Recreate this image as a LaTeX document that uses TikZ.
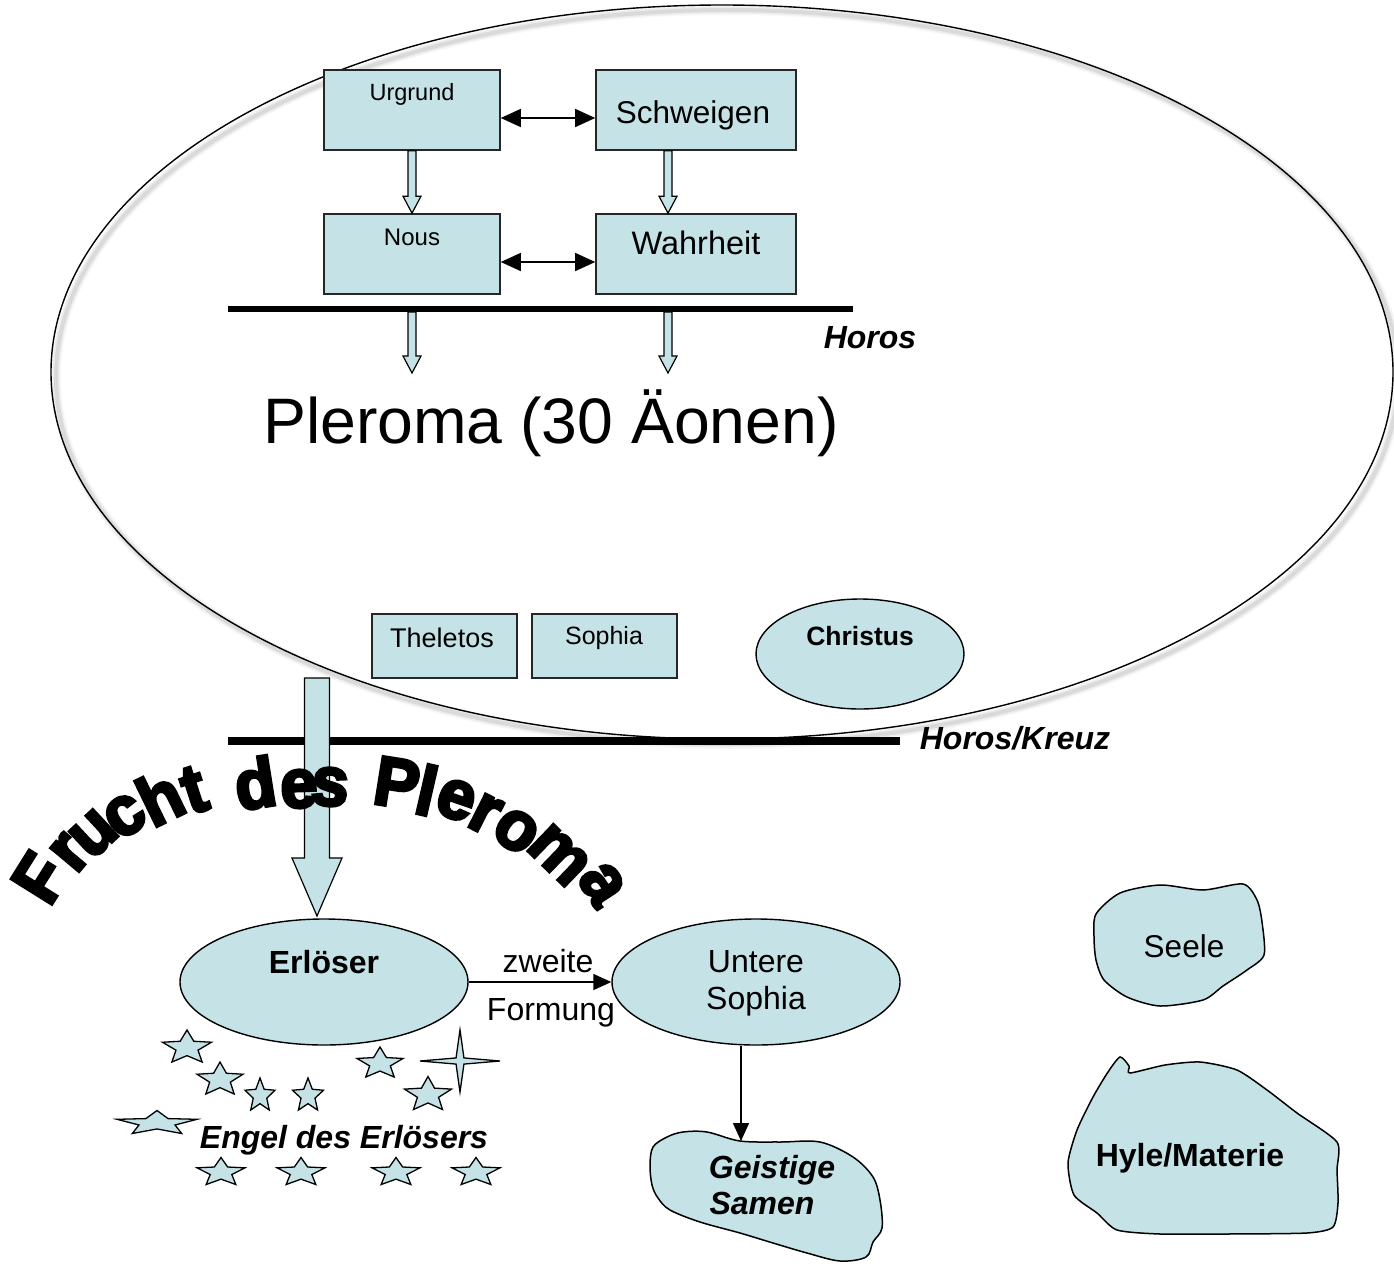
\documentclass[tikz,border=0pt]{standalone}
\usepackage{fontspec}
\usepackage{graphicx}
\setmainfont{Liberation Sans}
\newfontfamily\blackfont{Liberation Sans}[BoldFeatures={FakeBold=4.5}]
\usetikzlibrary{shapes.geometric,arrows.meta,calc}
\definecolor{lb}{RGB}{197,227,231}
\newcommand\fs[1]{\fontsize{#1}{#1}\selectfont}
\newcommand\fivestar[4]{%
  \draw[starsty, shift={(#1,#2+0.053*#4)}, xscale=#3/1.902, yscale=#4/1.809]
    (-90:1) -- (-54:.45) -- (-18:1) -- (18:.45) -- (54:1) -- (90:.45) -- (126:1) -- (162:.45) -- (198:1) -- (234:.45) -- cycle;}
\newcommand\blkarrow[5]{%
  \draw[blockarrow] let \p1=(#1), \p2=(#2) in
    ({\x1-#3pt},\y1) -- ({\x1-#3pt},{\y2+#5pt}) -- ({\x1-#4pt},{\y2+#5pt}) -- (\x1,\y2)
    -- ({\x1+#4pt},{\y2+#5pt}) -- ({\x1+#3pt},{\y2+#5pt}) -- ({\x1+#3pt},\y1) -- cycle;}
\begin{document}
\begin{tikzpicture}[x=1pt,y=-1pt,
  box/.style={draw=black!85, line width=1.6pt, fill=lb, minimum width=#1, inner sep=0pt},
  oval/.style={ellipse, draw=black, line width=1.4pt, fill=lb, inner sep=0pt},
  txt/.style={anchor=base, inner sep=0pt, align=center},
  blockarrow/.style={draw=black, line width=1.2pt, fill=lb, line join=miter},
  dbl/.style={line width=1.5pt, {Triangle[length=20pt,width=18pt]}-{Triangle[length=20pt,width=18pt]}},
  sgl/.style={line width=1.5pt, -{Triangle[length=18pt,width=16pt]}},
  bar/.style={line width=#1, draw=black},
  blob/.style={draw=black, line width=1.5pt, fill=lb},
  starsty/.style={draw=black, line width=1.3pt, fill=lb, line join=miter},
  fletter/.style={inner sep=0pt, anchor=center, font=\blackfont\bfseries\fs{62}}
]
\useasboundingbox (0,0) rectangle (1394,1271);

% big ellipse with soft shadow
\foreach \w/\o in {10/0.06, 7/0.10, 4/0.16}
  \draw[gray, opacity=\o, line width=\w pt] (727,377) ellipse [x radius=671, y radius=367];
\draw[line width=1.4pt] (722,372) ellipse [x radius=671, y radius=367];

% top four aeons
\node[box=176pt, minimum height=80pt] (urgrund) at (412,110) {};
\node[box=200pt, minimum height=80pt] (schweigen) at (696,110) {};
\node[box=176pt, minimum height=80pt] (nous) at (412,254) {};
\node[box=200pt, minimum height=80pt] (wahrheit) at (696,254) {};
\node[txt, font=\fs{23.5}] (t-urgrund) at (412,101) {Urgrund};
\node[txt, font=\fs{31.5}] (t-schweigen) at (693,124) {Schweigen};
\node[txt, font=\fs{24}] (t-nous) at (412,245) {Nous};
\node[txt, font=\fs{32.5}] (t-wahrheit) at (696,254) {Wahrheit};

\draw[dbl] ([yshift=-8pt]urgrund.east) -- ([yshift=-8pt]schweigen.west);
\draw[dbl] ([yshift=-8pt]nous.east) -- ([yshift=-8pt]wahrheit.west);
\blkarrow{urgrund.south}{nous.north}{4}{9}{17}
\blkarrow{[xshift=-28pt]schweigen.south}{[xshift=-28pt]wahrheit.north}{4}{9}{17}

% Horos
\coordinate (h1) at (228,309);
\coordinate (h2) at (853,309);
\draw[bar=6pt] (h1) -- (h2);
\node[txt, font=\fs{32}\bfseries\itshape] (t-horos) at (870,348) {Horos};
\coordinate (a1s) at (412,312);
\coordinate (a1e) at (412,373);
\coordinate (a2s) at (668,312);
\coordinate (a2e) at (668,373);
\blkarrow{a1s}{a1e}{4}{9}{17}
\blkarrow{a2s}{a2e}{4}{9}{17}

\node[txt, font=\fs{64.3}] (t-pleroma) at (551,443) {Pleroma (30 Äonen)};

% lower aeons
\node[box=145pt, minimum height=64pt] (theletos) at (444.5,646) {};
\node[box=145pt, minimum height=64pt] (sophia) at (604.5,646) {};
\node[txt, font=\fs{27}] (t-theletos) at (442,647) {Theletos};
\node[txt, font=\fs{25}] (t-sophia) at (604,644) {Sophia};
\node[oval, minimum width=208pt, minimum height=110pt] (christus) at (860,654) {};
\node[txt, font=\fs{26.5}\bfseries] (t-christus) at (860,645) {Christus};

% Horos / Kreuz
\coordinate (k1) at (228,741);
\coordinate (k2) at (900,741);
\draw[bar=8pt] (k1) -- (k2);
\node[txt, font=\fs{32}\bfseries\itshape] (t-kreuz) at (1015,749) {Horos/Kreuz};

% lower part
\node[oval, minimum width=288pt, minimum height=126pt] (erloeser) at (324,982) {};
\node[txt, font=\fs{32}\bfseries] (t-erloeser) at (324,973) {Erlöser};
\node[oval, minimum width=288pt, minimum height=126pt] (usophia) at (756,982) {};
\node[txt, font=\fs{32}] (t-untere) at (756,972) {Untere};
\node[txt, font=\fs{32}] (t-usophia) at (756,1009) {Sophia};

\coordinate (fr-start) at (317,678);
\coordinate (fr-tip) at (317,916);
\blkarrow{fr-start}{fr-tip}{12.5}{25}{58}

\draw[sgl] (erloeser.east) -- (usophia.west);
\node[txt, font=\fs{32}] (t-zweite) at (548,972) {zweite};
\node[txt, font=\fs{32}] (t-formung) at (551,1020) {Formung};

% blobs
\draw[blob] plot[smooth cycle, tension=.55] coordinates {
  (653,1147) (667,1137) (683,1132) (707,1132) (740,1141) (780,1142) (820,1142)
  (853,1157) (873,1177) (880,1200) (882,1228) (873,1242) (866,1257) (840,1261)
  (807,1253) (773,1243) (740,1233) (700,1222) (670,1210) (658,1198) (652,1185) (650,1165)};
\coordinate (gs-top) at (741,1141);
\draw[sgl] (usophia.south -| gs-top) -- (gs-top);
\node[txt, font=\fs{32}\bfseries\itshape] (t-geistige) at (772,1178) {Geistige};
\node[txt, font=\fs{32}\bfseries\itshape] (t-samen) at (762,1214) {Samen};

\draw[blob] plot[smooth cycle, tension=.45] coordinates {
  (1096,914) (1120,893) (1160,885) (1203,890) (1243,884) (1257,900) (1262,922)
  (1264,955) (1247,970) (1223,986) (1203,1000) (1160,1006) (1127,997) (1104,980)
  (1096,960) (1094,937)};
\node[txt, font=\fs{31.5}] (t-seele) at (1184,957) {Seele};

\draw[blob] plot[smooth cycle, tension=.4] coordinates {
  (1120,1057) (1129,1066) (1130,1073) (1165,1065) (1200,1062) (1237,1070) (1267,1090)
  (1297,1113) (1337,1142) (1337,1170) (1338,1203) (1333,1227) (1307,1233) (1227,1234)
  (1160,1234) (1117,1230) (1097,1213) (1074,1195) (1068,1163) (1077,1130) (1093,1097)
  (1108,1072)};
\node[txt, font=\fs{32}\bfseries] (t-hyle) at (1190,1166) {Hyle/Materie};

% stars
\fivestar{187}{1046}{49}{32}
\fivestar{220}{1078}{46}{32}
\fivestar{260}{1094}{30}{32}
\fivestar{308}{1094}{31}{32}
\fivestar{380}{1062}{46}{30}
\fivestar{428}{1093}{47}{33}
\fivestar{157}{1122}{80}{23}
\fivestar{221}{1171}{48}{27}
\fivestar{301}{1171}{48}{27}
\fivestar{396}{1171}{48}{27}
\fivestar{476}{1171}{48}{27}
\draw[starsty, shift={(460,1061)}, xscale=40, yscale=31]
  (-90:1) -- (-45:.14) -- (0:1) -- (45:.14) -- (90:1) -- (135:.14) -- (180:1) -- (225:.14) -- cycle;
\node[txt, font=\fs{32}\bfseries\itshape] (t-engel) at (344,1148) {Engel des Erlösers};

% arched title
\foreach \x/\y/\r/\c [count=\i] in {
  40/878/58/F, 70/853/50/r, 94/834/43/u, 125/816/35/c, 160/797/26/h, 194/790/18/t,
  255/783/9/d, 299/789/2/e, 330/787/-4/s,
  397/783/-9/P, 427/790/-13/l, 456/800/-19/e, 485/814/-27/r, 516/831/-35/o, 559/855/-44/m, 602/884/-57/a}
  \node[fletter, rotate=\r] (fr\i) at (\x,\y) {\scalebox{1.08}[1.12]{\c}};
\end{tikzpicture}
\end{document}
